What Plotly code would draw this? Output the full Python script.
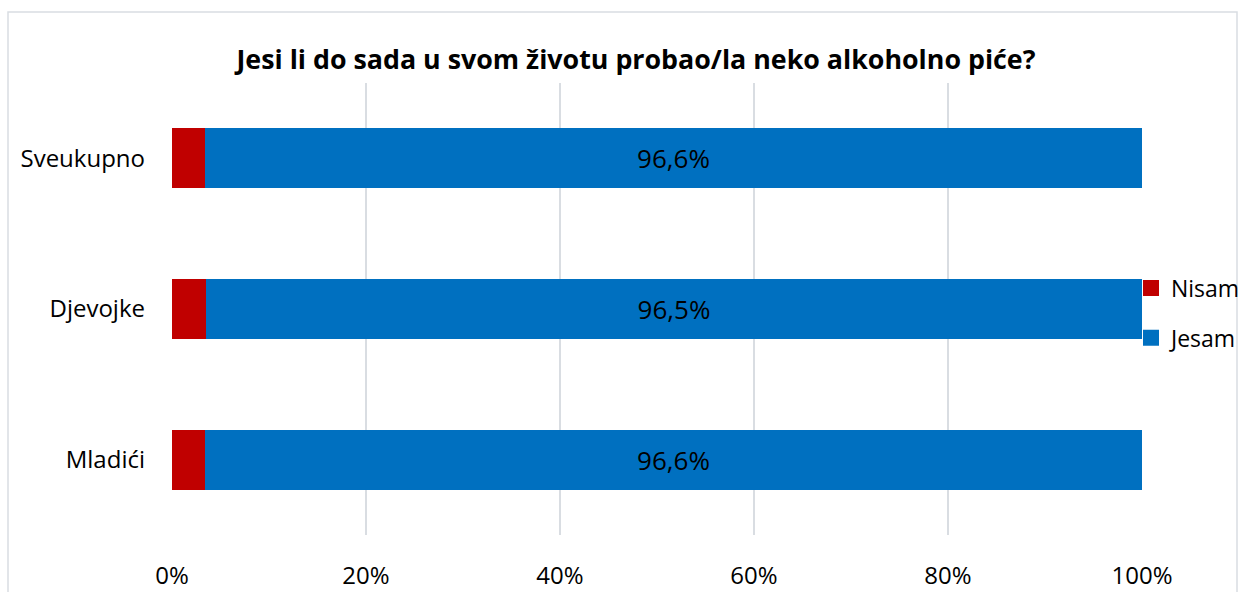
import plotly.graph_objects as go

# Survey data: share of respondents who have / have not tried alcohol
categories = ["Sveukupno", "Djevojke", "Mladići"]
nisam = [3.4, 3.5, 3.4]
jesam = [96.6, 96.5, 96.6]
x_ticks = [0, 20, 40, 60, 80, 100]
x_tick_labels = ["0%", "20%", "40%", "60%", "80%", "100%"]

FONT = "Open Sans, Liberation Sans, sans-serif"
RED = "#c00000"
BLUE = "#0070c0"

fig = go.Figure()

fig.add_trace(
    go.Bar(
        y=categories,
        x=nisam,
        orientation="h",
        name="Nisam",
        marker=dict(color=RED, line=dict(width=0)),
        showlegend=False,
    )
)

fig.add_trace(
    go.Bar(
        y=categories,
        x=jesam,
        orientation="h",
        name="Jesam",
        marker=dict(color=BLUE, line=dict(width=0)),
        text=[f"{v:.1f}%".replace(".", ",") for v in jesam],
        textposition="inside",
        insidetextanchor="middle",
        textfont=dict(color="black", size=26, family=FONT),
        showlegend=False,
    )
)

# Legend entries with larger square swatches
for name, color in [("Nisam", RED), ("Jesam", BLUE)]:
    fig.add_trace(
        go.Scatter(
            x=[None],
            y=[None],
            mode="markers",
            name=name,
            legendgroup=name,
            marker=dict(symbol="square", size=16, color=color),
        )
    )

# Light frame round the whole chart area
fig.add_shape(
    type="rect",
    xref="paper",
    yref="paper",
    x0=(8 - 172) / 970,
    x1=(1237 - 172) / 970,
    y0=-0.3,
    y1=(535 - 12) / 452,
    line=dict(color="#d9dde2", width=1.5),
    fillcolor="rgba(0,0,0,0)",
    layer="below",
)

fig.update_layout(
    width=1238,
    height=592,
    barmode="stack",
    bargap=0.6,
    plot_bgcolor="white",
    paper_bgcolor="white",
    margin=dict(l=172, r=96, t=83, b=57, autoexpand=False),
    font=dict(family=FONT, size=24, color="black"),
    title=dict(
        text="<b>Jesi li do sada u svom životu probao/la neko alkoholno piće?</b>",
        x=636 / 1238,
        xanchor="center",
        y=1 - 60 / 592,
        yanchor="middle",
        font=dict(size=26.8, family=FONT, color="black"),
    ),
    xaxis=dict(
        range=[0, 100],
        tickvals=x_ticks,
        ticktext=x_tick_labels,
        showgrid=True,
        gridcolor="#d9dde2",
        gridwidth=1.5,
        zeroline=False,
        showline=False,
        ticklabelstandoff=24,
        tickfont=dict(size=24),
    ),
    yaxis=dict(
        categoryorder="array",
        categoryarray=categories[::-1],
        range=[-0.5, 2.5],
        showgrid=False,
        zeroline=False,
        showline=False,
        ticklabelstandoff=26,
        tickfont=dict(size=24),
    ),
    legend=dict(
        traceorder="grouped",
        x=(1131 - 172) / 970,
        xanchor="left",
        y=(535 - 313) / 452,
        yanchor="middle",
        font=dict(size=23),
        itemwidth=30,
        tracegroupgap=17,
        bgcolor="rgba(0,0,0,0)",
    ),
    showlegend=True,
)

fig.write_html(
    "out.html",
    config={"displayModeBar": False},
    post_script="document.body.style.margin='0';document.body.style.overflow='hidden';",
)
